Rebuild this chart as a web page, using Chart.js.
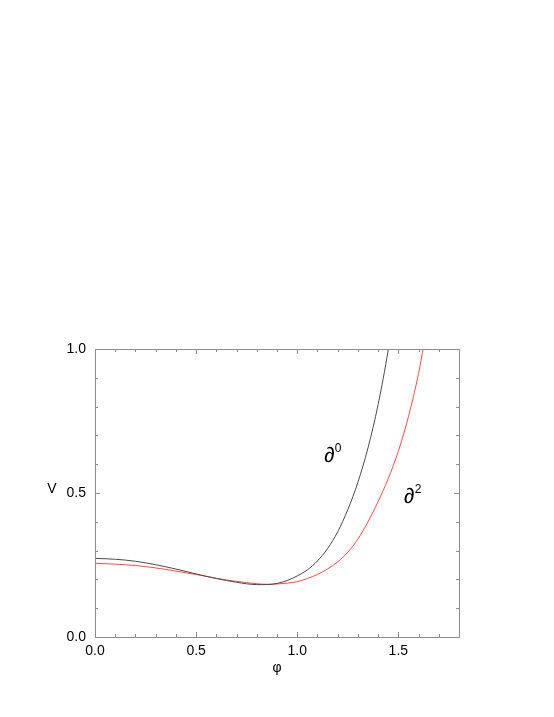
<!DOCTYPE html>
<html>
<head>
<meta charset="utf-8">
<script src="https://cdn.jsdelivr.net/npm/chart.js@4/dist/chart.umd.min.js"></script>
<style>
  html, body { margin: 0; padding: 0; background: #ffffff; }
  #wrap { width: 554px; height: 717px; position: relative; }
</style>
</head>
<body>
<div id="wrap"><canvas id="c" width="554" height="717"></canvas></div>
<script>
// ---- data ----
const phiD0 = [0, 0.1, 0.2, 0.3, 0.4, 0.5, 0.6, 0.7, 0.8, 0.85, 0.9, 0.95, 1.0, 1.05, 1.1, 1.15, 1.2, 1.25, 1.3, 1.35, 1.4, 1.45, 1.47];
const vD0   = [0.273, 0.270, 0.263, 0.251, 0.236, 0.219, 0.203, 0.190, 0.182, 0.182, 0.186, 0.196, 0.212, 0.233, 0.264, 0.307, 0.365, 0.442, 0.537, 0.657, 0.807, 0.997, 1.09];

const phiD2 = [0, 0.1, 0.2, 0.3, 0.4, 0.5, 0.6, 0.7, 0.8, 0.85, 0.9, 0.95, 1.0, 1.05, 1.1, 1.15, 1.2, 1.25, 1.3, 1.35, 1.4, 1.45, 1.5, 1.55, 1.6, 1.625, 1.64];
const vD2   = [0.256, 0.253, 0.248, 0.240, 0.229, 0.217, 0.204, 0.193, 0.185, 0.183, 0.184, 0.187, 0.192, 0.203, 0.217, 0.236, 0.261, 0.294, 0.34, 0.40, 0.47, 0.55, 0.645, 0.765, 0.915, 1.01, 1.07];

const xMin = 0, xMax = 1.8, yMin = 0, yMax = 1.0;
const majorStep = 0.5, minorStep = 0.1;
const xTitle = 'φ', yTitle = 'V';
const curveLabels = [
  { base: '∂', sup: '0', x: 1.132, y: 0.64 },
  { base: '∂', sup: '2', x: 1.527, y: 0.497 }
];

const FONT = '"Liberation Sans", Arial, Helvetica, sans-serif';

function toPts(xs, ys) { return xs.map((x, i) => ({ x: x, y: ys[i] })); }
function isMajor(v) { return Math.abs(v / majorStep - Math.round(v / majorStep)) < 1e-6; }

const framePlugin = {
  id: 'frame',
  afterDatasetsDraw(chart) {
    const ctx = chart.ctx, a = chart.chartArea;
    const xs = chart.scales.x, ys = chart.scales.y;
    ctx.save();
    ctx.strokeStyle = '#8c8c8c';
    ctx.lineWidth = 1;
    ctx.strokeRect(Math.round(a.left) + 0.5, Math.round(a.top) + 0.5,
                   Math.round(a.right - a.left), Math.round(a.bottom - a.top));
    ctx.beginPath();
    xs.ticks.forEach(t => {
      const px = Math.round(xs.getPixelForValue(t.value)) + 0.5;
      const len = isMajor(t.value) ? 5 : 3;
      ctx.moveTo(px, a.bottom); ctx.lineTo(px, a.bottom - len);
      ctx.moveTo(px, a.top); ctx.lineTo(px, a.top + len);
    });
    ys.ticks.forEach(t => {
      const py = Math.round(ys.getPixelForValue(t.value)) + 0.5;
      const len = isMajor(t.value) ? 5 : 3;
      ctx.moveTo(a.left, py); ctx.lineTo(a.left + len, py);
      ctx.moveTo(a.right, py); ctx.lineTo(a.right - len, py);
    });
    ctx.stroke();

    // axis titles
    ctx.fillStyle = '#000';
    ctx.textAlign = 'center';
    ctx.textBaseline = 'middle';
    ctx.font = '14px ' + FONT;
    ctx.fillText(yTitle, a.left - 43, ys.getPixelForValue(0.5) - 4);
    ctx.fillText(xTitle, (a.left + a.right) / 2 + 0, a.bottom + 31);

    // curve labels
    curveLabels.forEach(l => {
      const px = xs.getPixelForValue(l.x), py = ys.getPixelForValue(l.y);
      ctx.textAlign = 'left';
      ctx.textBaseline = 'alphabetic';
      ctx.font = '21px ' + FONT;
      ctx.fillText(l.base, px, py + 9);
      const w = ctx.measureText(l.base).width;
      ctx.font = '12px ' + FONT;
      ctx.fillText(l.sup, px + w + 0.5, py - 0.5);
    });
    ctx.restore();
  }
};

new Chart(document.getElementById('c'), {
  type: 'line',
  data: {
    datasets: [
      { label: '∂0', data: toPts(phiD0, vD0), borderColor: '#4a4a4a', borderWidth: 1,
        pointRadius: 0, fill: false, cubicInterpolationMode: 'monotone' },
      { label: '∂2', data: toPts(phiD2, vD2), borderColor: '#ff4a4a', borderWidth: 1,
        pointRadius: 0, fill: false, cubicInterpolationMode: 'monotone' }
    ]
  },
  options: {
    responsive: false,
    animation: false,
    devicePixelRatio: 1,
    layout: { padding: { left: 0, top: 349, right: 95, bottom: 30 } },
    plugins: { legend: { display: false }, tooltip: { enabled: false } },
    scales: {
      x: {
        type: 'linear', min: xMin, max: xMax,
        grid: { display: false, drawTicks: false },
        border: { display: false },
        ticks: {
          stepSize: minorStep, autoSkip: false, maxRotation: 0, padding: 6,
          color: '#000', font: { family: FONT, size: 14 },
          callback: v => isMajor(v) ? v.toFixed(1) : ''
        },
        afterFit: s => { s.height = 50; }
      },
      y: {
        type: 'linear', min: yMin, max: yMax,
        grid: { display: false, drawTicks: false },
        border: { display: false },
        ticks: {
          stepSize: minorStep, autoSkip: false, padding: 9,
          color: '#000', font: { family: FONT, size: 14 },
          callback: v => isMajor(v) ? v.toFixed(1) : ''
        },
        afterFit: s => { s.width = 95; }
      }
    }
  },
  plugins: [framePlugin]
});
</script>
</body>
</html>
